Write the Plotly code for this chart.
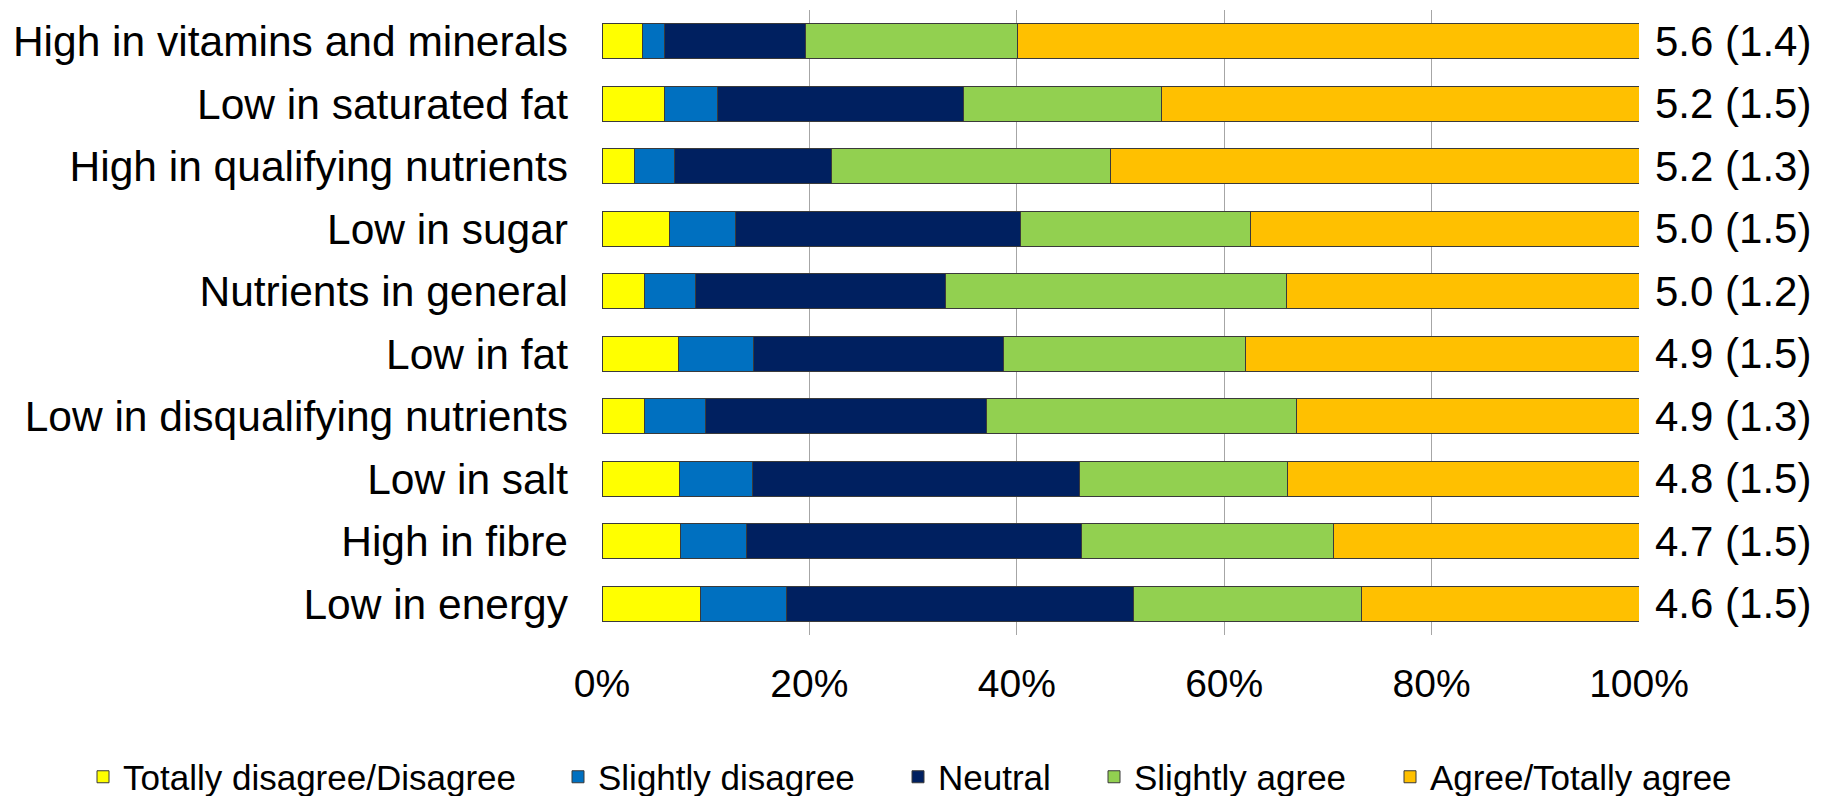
import plotly.graph_objects as go

# Survey items (top to bottom)
items = [
    "High in vitamins and minerals",
    "Low in saturated fat",
    "High in qualifying nutrients",
    "Low in sugar",
    "Nutrients in general",
    "Low in fat",
    "Low in disqualifying nutrients",
    "Low in salt",
    "High in fibre",
    "Low in energy",
]

# Mean (SD) printed at the right of each bar
mean_sd = [
    "5.6 (1.4)", "5.2 (1.5)", "5.2 (1.3)", "5.0 (1.5)", "5.0 (1.2)",
    "4.9 (1.5)", "4.9 (1.3)", "4.8 (1.5)", "4.7 (1.5)", "4.6 (1.5)",
]

# Response shares in percent
totally_disagree = [3.9, 6.0, 3.1, 6.5, 4.1, 7.4, 4.1, 7.5, 7.6, 9.5]
slightly_disagree = [2.1, 5.1, 3.9, 6.4, 4.9, 7.2, 5.9, 7.0, 6.3, 8.3]
neutral = [13.6, 23.8, 15.1, 27.5, 24.1, 24.1, 27.1, 31.5, 32.3, 33.5]
slightly_agree = [20.5, 19.1, 26.9, 22.1, 32.9, 23.4, 29.9, 20.1, 24.3, 21.9]
agree = [59.9, 46.0, 51.0, 37.5, 34.0, 37.9, 33.0, 33.9, 29.5, 26.8]

series = [
    ("Totally disagree/Disagree", totally_disagree, "#FFFF00"),
    ("Slightly disagree", slightly_disagree, "#0070C0"),
    ("Neutral", neutral, "#002060"),
    ("Slightly agree", slightly_agree, "#92D050"),
    ("Agree/Totally agree", agree, "#FFC000"),
]

W, H = 1827, 796
FONT = "Liberation Sans, Arial, sans-serif"

# one legend box per response category, laid out along the bottom row
legend_left_px = [83, 558, 898, 1094, 1390]
legend_ids = ["legend", "legend2", "legend3", "legend4", "legend5"]

fig = go.Figure()
for (name, vals, color), lid in zip(series, legend_ids):
    fig.add_trace(go.Bar(
        name=name,
        y=items,
        x=vals,
        orientation="h",
        legend=lid,
        showlegend=True,
        marker=dict(color=color, line=dict(color="#3a3a3a", width=1)),
    ))

for item, label in zip(items, mean_sd):
    fig.add_annotation(
        x=1, xref="paper", y=item, yref="y",
        text=label, showarrow=False,
        xanchor="left", xshift=14,
        font=dict(family=FONT, size=42, color="#000000"),
    )

legend_style = dict(
    orientation="h",
    xref="container", yref="container",
    xanchor="left",
    y=1 - 777 / H, yanchor="middle",
    font=dict(family=FONT, size=35, color="#000000"),
    bgcolor="rgba(0,0,0,0)",
    borderwidth=0,
)
legends = {
    lid: dict(legend_style, x=px / W)
    for lid, px in zip(legend_ids, legend_left_px)
}

fig.update_layout(
    barmode="stack",
    bargap=0.435,
    width=W,
    height=H,
    margin=dict(l=602, r=188, t=10, b=161, autoexpand=False),
    paper_bgcolor="white",
    plot_bgcolor="white",
    showlegend=True,
    font=dict(family=FONT, color="#000000"),
    **legends,
)

fig.update_xaxes(
    range=[0, 100],
    tickvals=[0, 20, 40, 60, 80, 100],
    ticktext=["0%", "20%", "40%", "60%", "80%", "100%"],
    tickfont=dict(family=FONT, size=39),
    showgrid=True,
    gridcolor="#A6A6A6",
    gridwidth=1,
    zeroline=False,
    showline=False,
    ticks="",
    ticklabelstandoff=22,
    automargin=False,
)

fig.update_yaxes(
    categoryorder="array",
    categoryarray=items,
    autorange="reversed",
    tickfont=dict(family=FONT, size=42.5),
    showgrid=False,
    showline=False,
    ticks="",
    ticklabelstandoff=33,
    automargin=False,
)

fig.write_html("out.html")
